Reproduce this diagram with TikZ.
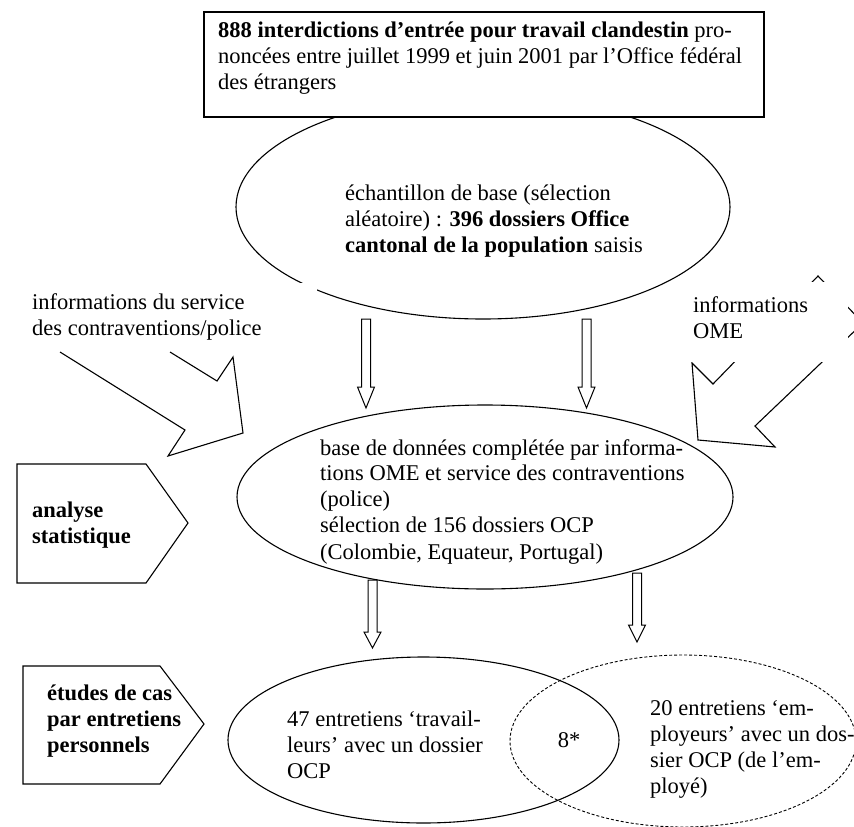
\documentclass[tikz,border=0pt]{standalone}
\usepackage{fontspec}
\setmainfont{Liberation Serif}
\usetikzlibrary{shapes.geometric}
\newcommand\blockdown[4]{%
  \draw[blockarrow] (#1-4.5,#2) -- (#1+4.5,#2) -- (#1+4.5,#3) -- (#1+8.5,#3) -- (#1,#4) -- (#1-8.5,#3) -- (#1-4.5,#3) -- cycle;}
\tikzset{
  txt/.style={anchor=west, align=left, inner sep=0pt},
  shapeline/.style={line width=1.1pt, line join=miter},
  oval/.style={ellipse, draw, inner sep=0pt, line width=1.1pt},
  blockarrow/.style={line width=1pt, fill=white, line join=miter},
}
\begin{document}
\begin{tikzpicture}[x=1pt,y=-1pt,font=\fontsize{22.5pt}{26pt}\selectfont]
\useasboundingbox (0,0) rectangle (854,827);
\clip (0,0) rectangle (854,827);
% first ellipse and title box
\node[oval, minimum width=494pt, minimum height=224pt] (e1) at (483,207) {};
\draw[fill=white, line width=1.2pt] (204,12) rectangle (764,117);
\draw[line width=2.2pt] (204,117) -- (764,117) -- (764,12);
\node[txt] (t1) at (218,58.5) {\textbf{888 interdictions d’entrée pour travail clandestin} pro-\\noncées entre juillet 1999 et juin 2001 par l’Office fédéral\\des étrangers};
\node[txt] (t2) at (345,221.5) {échantillon de base (sélection\\aléatoire) : \textbf{396 dossiers Office}\\\textbf{cantonal de la population} saisis};
% left callout
\fill[white] (22,283) rectangle (317,352);
\draw[shapeline] (60,352) -- (185,430) -- (168,456) -- (243,433) -- (233,357) -- (217,381) -- (170,352);
\node[txt] (t3) at (32,316.5) {informations du service\\des contraventions/police};
% right callout
\draw[shapeline, fill=white] (818,276) -- (713,384) -- (692,363) -- (698,440) -- (775,447) -- (755,426) -- (863,323) -- cycle;
\fill[white] (685,282) rectangle (848,362);
\node[txt] (t4) at (693,317.5) {informations\\OME};
% middle ellipse
\node[oval, minimum width=496pt, minimum height=184pt] (e2) at (485,497) {};
\node[txt] (t5) at (320,501.5) {base de données complétée par informa-\\tions OME et service des contraventions\\(police)\\sélection de 156 dossiers OCP\\(Colombie, Equateur, Portugal)};
% block arrows
\blockdown{366}{319}{387}{408}
\blockdown{586.5}{319}{387}{408}
\blockdown{372.5}{580}{632}{648}
\blockdown{637}{573}{625}{642}
% side pentagons
\draw[shapeline] (17,464) -- (146,464) -- (188,523) -- (146,583) -- (17,583) -- cycle;
\node[txt, font=\fontsize{22.5pt}{26pt}\selectfont\bfseries] (p1) at (32,525) {analyse\\statistique};
\draw[shapeline] (23,666) -- (160,666) -- (204,724) -- (160,784) -- (23,784) -- cycle;
\node[txt, font=\fontsize{22.5pt}{26pt}\selectfont\bfseries] (p2) at (47,721) {études de cas\\par entretiens\\personnels};
% bottom ellipses
\node[oval, minimum width=391pt, minimum height=166pt] (e3) at (423.5,740) {};
\node[oval, dash pattern=on 3pt off 2pt, line width=0.9pt, minimum width=346pt, minimum height=172pt] (e4) at (683,741) {};
\node[txt] (t6) at (287,745) {47 entretiens ‘travail-\\leurs’ avec un dossier\\OCP};
\node[anchor=center, inner sep=0pt] (t7) at (569,740) {8*};
\node[txt] (t8) at (650,749.5) {20 entretiens ‘em-\\ployeurs’ avec un dos-\\sier OCP (de l’em-\\ployé)};
\end{tikzpicture}
\end{document}
